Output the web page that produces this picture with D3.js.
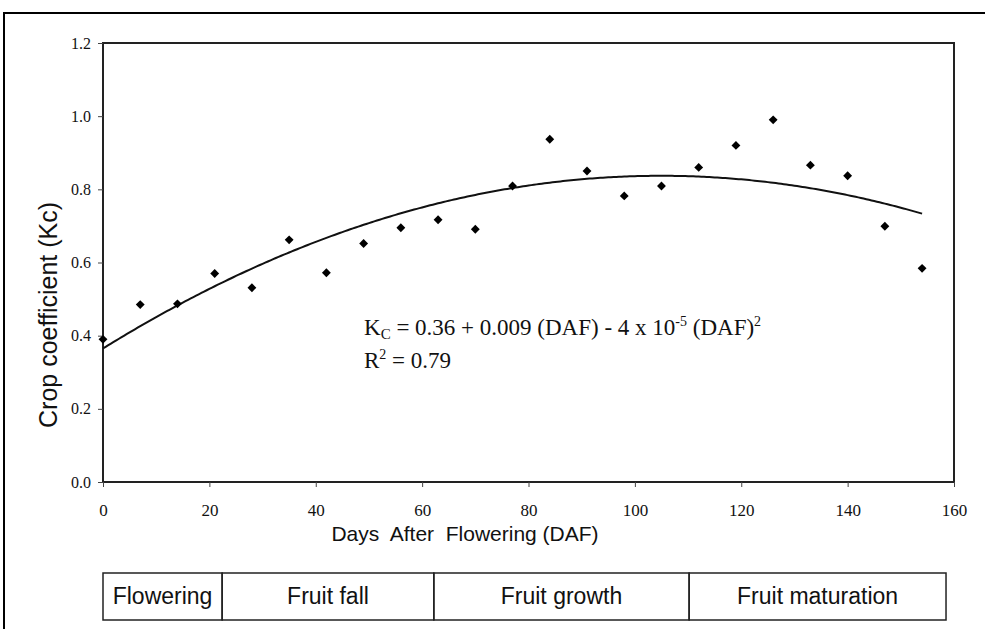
<!DOCTYPE html>
<html>
<head>
<meta charset="utf-8">
<script src="https://cdn.jsdelivr.net/npm/d3@7"></script>
<style>
	body { margin: 0; background: #fff; }
	svg text { fill: #111; }
	.serif { font-family: "Liberation Serif", "Times New Roman", serif; }
	.sans { font-family: "Liberation Sans", Arial, sans-serif; }
</style>
</head>
<body>
<svg id="chart" width="985" height="629"></svg>
<script>
// days after flowering, one reading a week
const daf = [0, 7, 14, 21, 28, 35, 42, 49, 56, 63, 70, 77, 84, 91, 98, 105, 112, 119, 126, 133, 140, 147, 154];
// crop coefficient
const kc = [0.39, 0.485, 0.487, 0.57, 0.531, 0.662, 0.572, 0.652, 0.695, 0.717, 0.691, 0.809, 0.937, 0.85, 0.782, 0.809, 0.86, 0.92, 0.99, 0.866, 0.837, 0.699, 0.584];

// fitted quadratic trend (as drawn): a + b*DAF + c*DAF^2
const fitCoef = [0.365, 0.0090, -0.0000429];

const xTicks = [0, 20, 40, 60, 80, 100, 120, 140, 160];
const yTicks = [0, 0.2, 0.4, 0.6, 0.8, 1.0, 1.2];

// phenological stages, boundaries in DAF
const stageNames = ["Flowering", "Fruit fall", "Fruit growth", "Fruit maturation"];
const stageStart = [0, 22.4, 62.2, 110.2];
const stageEnd = [22.4, 62.2, 110.2, 158.5];

var svg = d3.select("#chart");

// outer frame (runs off the right and bottom edges)
svg.append("rect")
	.attr("x", 4).attr("y", 13)
	.attr("width", 1100).attr("height", 800)
	.attr("fill", "none").attr("stroke", "#000").attr("stroke-width", 2);

var x = d3.scaleLinear().domain([0, 160]).range([103, 954]);
var y = d3.scaleLinear().domain([0, 1.2]).range([482, 43]);

// plot box
svg.append("rect")
	.attr("x", x(0)).attr("y", y(1.2))
	.attr("width", x(160) - x(0)).attr("height", y(0) - y(1.2))
	.attr("fill", "none").attr("stroke", "#222").attr("stroke-width", 2);

// y axis
var yAxis = svg.append("g")
	.attr("transform", "translate(" + x(0) + ",0)")
	.call(d3.axisLeft(y).tickValues(yTicks).tickFormat(d3.format(".1f")).tickSize(5).tickPadding(7));
yAxis.select(".domain").remove();
yAxis.selectAll(".tick line").attr("stroke", "#444");
yAxis.selectAll("text")
	.attr("class", "serif")
	.style("font-size", "16px")
	.attr("fill", "#222");

// x axis
var xAxis = svg.append("g")
	.attr("transform", "translate(0," + y(0) + ")")
	.call(d3.axisBottom(x).tickValues(xTicks).tickSize(5).tickPadding(17));
xAxis.select(".domain").remove();
xAxis.selectAll(".tick line").attr("stroke", "#444");
xAxis.selectAll("text")
	.attr("class", "serif")
	.style("font-size", "17px")
	.attr("fill", "#222");

// axis titles
svg.append("text")
	.attr("class", "sans")
	.attr("transform", "translate(57,315) rotate(-90)")
	.attr("text-anchor", "middle")
	.style("font-size", "25px")
	.text("Crop coefficient (Kc)");

svg.append("text")
	.attr("class", "sans")
	.attr("x", 465).attr("y", 541)
	.attr("text-anchor", "middle")
	.style("font-size", "21px")
	.style("white-space", "pre")
	.text("Days  After  Flowering (DAF)");

// trend line
var curve = d3.line()
	.x(d => x(d))
	.y(d => y(fitCoef[0] + fitCoef[1] * d + fitCoef[2] * d * d));

svg.append("path")
	.datum(d3.range(0, 154.5, 0.5))
	.attr("d", curve)
	.attr("fill", "none")
	.attr("stroke", "#111")
	.attr("stroke-width", 2);

// points
svg.append("g")
	.selectAll("path")
	.data(daf)
	.enter()
	.append("path")
	.attr("d", d3.symbol(d3.symbolDiamond2, 50))
	.attr("transform", (d, i) => "translate(" + x(d) + "," + y(kc[i]) + ")")
	.attr("fill", "#000");

// regression equation
var eq = svg.append("text")
	.attr("class", "serif")
	.attr("x", 364).attr("y", 335)
	.style("font-size", "23px");
eq.append("tspan").text("K");
eq.append("tspan").attr("dy", 4).style("font-size", "15px").text("C");
eq.append("tspan").attr("dy", -4).text(" = 0.36 + 0.009 (DAF) - 4 x 10");
eq.append("tspan").attr("dy", -9).style("font-size", "14px").text("-5");
eq.append("tspan").attr("dy", 9).text(" (DAF)");
eq.append("tspan").attr("dy", -9).style("font-size", "14px").text("2");

var r2 = svg.append("text")
	.attr("class", "serif")
	.attr("x", 364).attr("y", 368)
	.style("font-size", "23px");
r2.append("tspan").text("R");
r2.append("tspan").attr("dy", -9).style("font-size", "14px").text("2");
r2.append("tspan").attr("dy", 9).text(" = 0.79");

// stage boxes
var stages = svg.append("g")
	.selectAll("g")
	.data(stageNames)
	.enter()
	.append("g");

stages.append("rect")
	.attr("x", (d, i) => x(stageStart[i]))
	.attr("y", 573)
	.attr("width", (d, i) => x(stageEnd[i]) - x(stageStart[i]))
	.attr("height", 47)
	.attr("fill", "none")
	.attr("stroke", "#222")
	.attr("stroke-width", 1.5);

stages.append("text")
	.attr("class", "sans")
	.attr("x", (d, i) => (x(stageStart[i]) + x(stageEnd[i])) / 2)
	.attr("y", 604)
	.attr("text-anchor", "middle")
	.style("font-size", "23px")
	.text(d => d);
</script>
</body>
</html>
